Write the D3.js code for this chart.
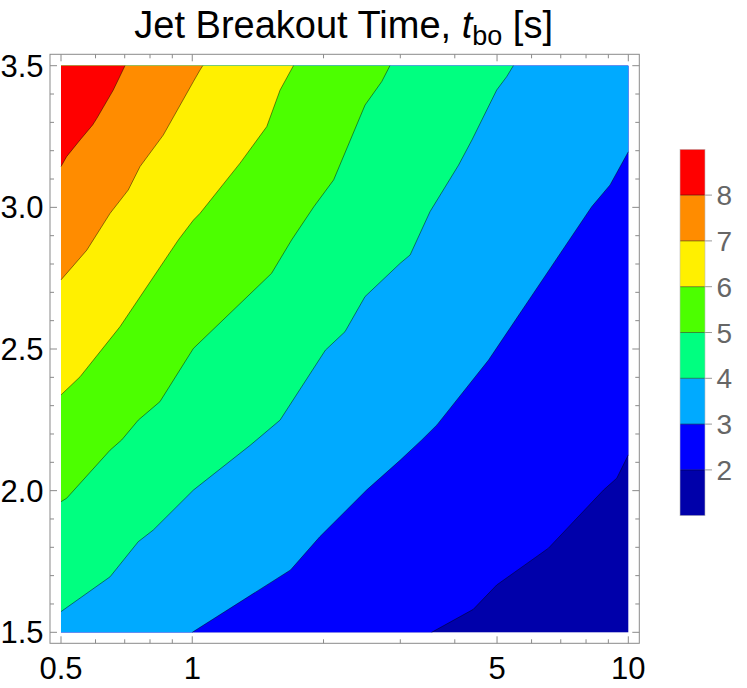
<!DOCTYPE html>
<html><head><meta charset="utf-8">
<script src="https://cdn.jsdelivr.net/npm/d3@7"></script>
<style>body{margin:0;background:#fff;} svg text{font-family:"Liberation Sans",Arial,Helvetica,sans-serif;}</style>
</head><body><svg id="c" width="747" height="688"></svg>
<script>
// contour levels and band colours (band i spans level i+1 .. i+2)
const levels = [2,3,4,5,6,7,8];
const bandColors = ["#0000aa","#0000ff","#00aaff","#00ff80","#4cff00","#fff000","#ff8c00","#ff0000"];
// contour lines, [x (log axis), y], running from top/right edge to left/bottom edge
const contour2 = [[10,2.126],[9.41,2.044],[8.77,2.002],[6.56,1.797],[4.99,1.667],[4.41,1.581],[3.54,1.5]];
const contour3 = [[10,3.196],[9.08,3.079],[8.24,3.002],[4.78,2.461],[3.64,2.232],[3.36,2.179],[3.0,2.108],[2.51,2.002],[1.96,1.837],[1.68,1.720],[1.0,1.5]];
const contour4 = [[5.45,3.5],[5.26,3.461],[4.99,3.414],[4.38,3.238],[4.08,3.149],[3.51,2.985],[3.16,2.832],[3.0,2.803],[2.49,2.685],[2.24,2.561],[2.02,2.496],[1.59,2.249],[1.36,2.161],[1.006,2.002],[0.814,1.861],[0.752,1.820],[0.648,1.696],[0.5,1.573]];
const contour5 = [[2.84,3.5],[2.72,3.444],[2.49,3.361],[2.11,3.097],[1.90,3.002],[1.69,2.885],[1.52,2.767],[1.006,2.502],[0.843,2.314],[0.752,2.249],[0.689,2.179],[0.648,2.143],[0.515,1.973],[0.5,1.961]];
const contour6 = [[1.706,3.5],[1.59,3.414],[1.482,3.285],[1.287,3.156],[1.042,2.979],[1.006,2.955],[0.929,2.885],[0.683,2.579],[0.553,2.402],[0.5,2.338]];
const contour7 = [[1.057,3.5],[1.042,3.485],[1.006,3.444],[0.858,3.255],[0.759,3.144],[0.713,3.061],[0.648,2.979],[0.573,2.849],[0.5,2.744]];
const contour8 = [[0.701,3.5],[0.659,3.414],[0.604,3.314],[0.591,3.291],[0.553,3.238],[0.515,3.179],[0.5,3.144]];
const contours = [contour2,contour3,contour4,contour5,contour6,contour7,contour8];

const xDomain = [0.5,10];
const yDomain = [1.5,3.5];
const xTicksMajor = [0.5,1,5,10];
const xTickLabels = ["0.5","1","5","10"];
const xTicksMinor = [0.6,0.7,0.8,0.9,2,3,4,6,7,8,9];
const yTicksMajor = [1.5,2.0,2.5,3.0,3.5];
const yTickLabels = ["1.5","2.0","2.5","3.0","3.5"];
const yTicksMinor = [1.6,1.7,1.8,1.9,2.1,2.2,2.3,2.4,2.6,2.7,2.8,2.9,3.1,3.2,3.3,3.4];
const colorbarDomain = [1,9];
const colorbarTicks = [2,3,4,5,6,7,8];

const svg = d3.select("#c");
const x = d3.scaleLog().domain(xDomain).range([61,628.3]);
const y = d3.scaleLinear().domain(yDomain).range([632.3,65.7]);
const frame = {l:50, t:54.3, r:639.3, b:643.3};
const line = d3.line().x(d=>x(d[0])).y(d=>y(d[1]));

const g = svg.append("g");
g.append("rect").attr("x",x(xDomain[0])).attr("y",y(yDomain[1]))
  .attr("width",x(xDomain[1])-x(xDomain[0])).attr("height",y(yDomain[0])-y(yDomain[1]))
  .attr("fill",bandColors[0]);
contours.forEach((c,i)=>{
  const start=c[0], end=c[c.length-1];
  const corners=[];
  if (end[1]===yDomain[0]) corners.push([xDomain[0],yDomain[0]]);
  corners.push([xDomain[0],yDomain[1]]);
  if (start[0]===xDomain[1]) corners.push([xDomain[1],yDomain[1]]);
  g.append("path").attr("d",line(c.concat(corners))+"Z").attr("fill",bandColors[i+1]);
});
contours.forEach(c=>{
  g.append("path").attr("d",line(c)).attr("fill","none")
    .attr("stroke","#000").attr("stroke-opacity",0.45).attr("stroke-width",1);
});

const fc="#8a8a8a";
svg.append("rect").attr("x",frame.l).attr("y",frame.t).attr("width",frame.r-frame.l).attr("height",frame.b-frame.t)
  .attr("fill","none").attr("stroke",fc).attr("stroke-width",1);
const tk = svg.append("g").attr("stroke",fc).attr("stroke-width",1);
function xt(v,len){
  tk.append("line").attr("x1",x(v)).attr("x2",x(v)).attr("y1",frame.b).attr("y2",frame.b-len);
  tk.append("line").attr("x1",x(v)).attr("x2",x(v)).attr("y1",frame.t).attr("y2",frame.t+len);
}
function yt(v,len){
  tk.append("line").attr("y1",y(v)).attr("y2",y(v)).attr("x1",frame.l).attr("x2",frame.l+len);
  tk.append("line").attr("y1",y(v)).attr("y2",y(v)).attr("x1",frame.r).attr("x2",frame.r-len);
}
xTicksMajor.forEach(v=>xt(v,7)); xTicksMinor.forEach(v=>xt(v,4));
yTicksMajor.forEach(v=>yt(v,7)); yTicksMinor.forEach(v=>yt(v,4));

xTicksMajor.forEach((v,i)=>svg.append("text").attr("x",x(v)).attr("y",679).attr("text-anchor","middle")
  .attr("font-size",31).attr("fill","#000").text(xTickLabels[i]));
yTicksMajor.forEach((v,i)=>svg.append("text").attr("x",43.5).attr("y",y(v)+11).attr("text-anchor","end")
  .attr("font-size",31).attr("fill","#000").text(yTickLabels[i]));

const t = svg.append("text").attr("x",(frame.l+frame.r)/2-1).attr("y",38).attr("text-anchor","middle")
  .attr("font-size",38).attr("fill","#000");
t.append("tspan").text("Jet Breakout Time, ");
t.append("tspan").attr("font-style","italic").text("t");
t.append("tspan").attr("font-size",27).attr("dy",7).text("bo");
t.append("tspan").attr("dy",-7).text(" [s]");

const cb = d3.scaleLinear().domain(colorbarDomain).range([515.7,149.3]);
const cbx=680, cbw=25;
bandColors.forEach((col,i)=>{
  svg.append("rect").attr("x",cbx).attr("y",cb(i+2)).attr("width",cbw).attr("height",cb(i+1)-cb(i+2)).attr("fill",col);
});
levels.forEach(v=>{
  svg.append("line").attr("x1",cbx).attr("x2",cbx+cbw).attr("y1",cb(v)).attr("y2",cb(v))
    .attr("stroke","#000").attr("stroke-opacity",0.45);
  svg.append("line").attr("x1",cbx+cbw).attr("x2",cbx+cbw+7).attr("y1",cb(v)).attr("y2",cb(v))
    .attr("stroke","#999");
});
svg.append("rect").attr("x",cbx).attr("y",cb(9)).attr("width",cbw).attr("height",cb(1)-cb(9))
  .attr("fill","none").attr("stroke","#bbb").attr("stroke-width",0.6);
colorbarTicks.forEach(v=>svg.append("text").attr("x",716.5).attr("y",cb(v)+10)
  .attr("font-size",28).attr("fill","#666").text(v));
</script></body></html>
